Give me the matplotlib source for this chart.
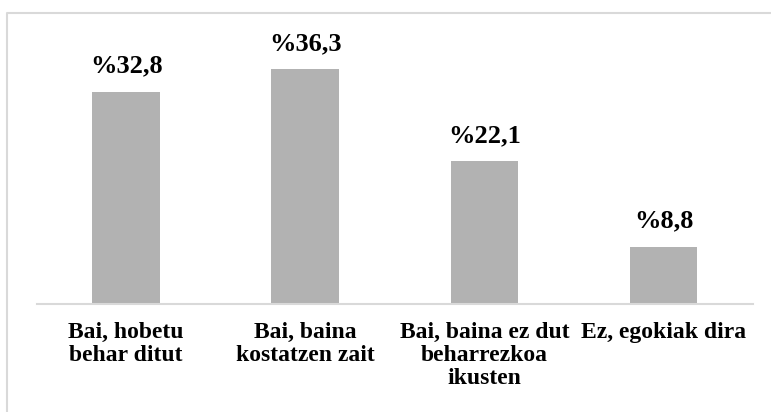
import matplotlib
matplotlib.use("Agg")
import matplotlib.pyplot as plt
from matplotlib.lines import Line2D

# datuak
categories = ["Bai, hobetu\nbehar ditut",
              "Bai, baina\nkostatzen zait",
              "Bai, baina ez dut\nbeharrezkoa\nikusten",
              "Ez, egokiak dira"]
values = [32.8, 36.3, 22.1, 8.8]
value_labels = ["%32,8", "%36,3", "%22,1", "%8,8"]

plt.rcParams['font.family'] = ['Liberation Serif', 'DejaVu Serif']

W, H = 771, 412
fig = plt.figure(figsize=(W / 100, H / 100), dpi=100)
ax = fig.add_axes([36.7 / W, (H - 303.5) / H, (753 - 36.7) / W, 258.4 / H])

x = list(range(len(values)))
ax.bar(x, values, width=0.378, color='#b2b2b2')
ax.set_xlim(-0.5, len(values) - 0.5)
ax.set_ylim(0, 40)

for xi, v, lab in zip(x, values, value_labels):
    ax.annotate(lab, (xi, v), xytext=(0, 10), textcoords='offset points',
                ha='center', va='bottom', fontsize=19, fontweight='bold',
                annotation_clip=False)

ax.set_xticks(x)
ax.set_xticklabels(categories, fontsize=17, fontweight='bold',
                   linespacing=1.13, multialignment='center')
ax.tick_params(axis='x', length=0, pad=13)
ax.set_yticks([])
for s in ['top', 'right', 'left']:
    ax.spines[s].set_visible(False)
ax.spines['bottom'].set_color('#d9d9d9')
ax.spines['bottom'].set_linewidth(1.5)

# kanpoko marko grisa
fig.add_artist(Line2D([7.3 / W, 7.3 / W, 1.0], [0.0, (H - 13) / H, (H - 13) / H],
                      transform=fig.transFigure, color='#d9d9d9', lw=1.5))

fig.savefig("out.png", dpi=100)
